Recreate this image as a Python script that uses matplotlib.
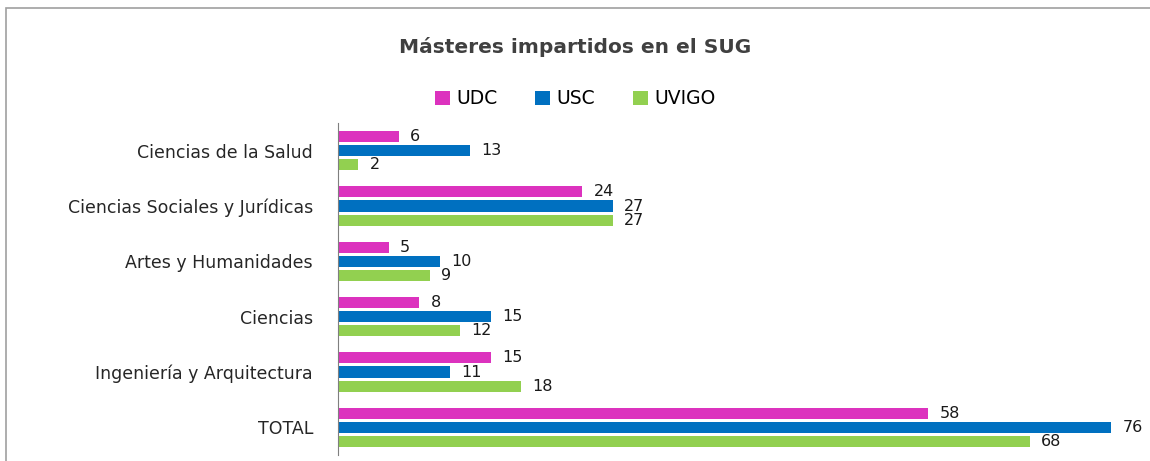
import numpy as np
import matplotlib
matplotlib.use("Agg")
from matplotlib import pyplot as plt
from matplotlib.patches import Rectangle

# Data
categories = ['Ciencias de la Salud', 'Ciencias Sociales y Jurídicas',
              'Artes y Humanidades', 'Ciencias',
              'Ingeniería y Arquitectura', 'TOTAL']
udc = [6, 24, 5, 8, 15, 58]
usc = [13, 27, 10, 15, 11, 76]
uvigo = [2, 27, 9, 12, 18, 68]
series_names = ['UDC', 'USC', 'UVIGO']
colors = ['#DC32BE', '#0070C0', '#92D050']

plt.rcParams['font.family'] = ['DejaVu Sans']

fig = plt.figure(figsize=(11.5, 4.61), dpi=100)
ax = fig.add_axes([338 / 1150, 6 / 461, 1 - 338 / 1150, (455 - 123) / 461])

y = np.arange(len(categories))
step = 0.257
height = 0.2
for i, (vals, name, col) in enumerate(zip([udc, usc, uvigo], series_names, colors)):
    pos = y + (i - 1) * step
    bars = ax.barh(pos, vals, height=height, color=col, label=name)
    for b, v in zip(bars, vals):
        ax.text(b.get_width() + 1.1, b.get_y() + b.get_height() / 2, str(v),
                va='center', ha='left', fontsize=11.5, color='#1a1a1a')

ax.set_ylim(5.5, -0.5)
ax.set_xlim(0, 79.8)
ax.set_yticks(y)
ax.set_yticklabels(categories, fontsize=12.5, color='#262626')
ax.tick_params(axis='y', length=0, pad=18)
ax.set_xticks([])
for s in ['top', 'right', 'bottom']:
    ax.spines[s].set_visible(False)
ax.spines['left'].set_color('#7f7f7f')

fig.text(0.5, 1 - 47 / 461, 'Másteres impartidos en el SUG', ha='center', va='center',
         fontsize=14.5, fontweight='bold', color='#404040')
fig.legend(loc='center', bbox_to_anchor=(0.5, 1 - 99 / 461), ncol=3, frameon=False,
           fontsize=13.5, handlelength=0.8, handleheight=0.8, handletextpad=0.35,
           columnspacing=2.0)

# outer chart border (only top and left edges are visible in the frame)
fig.patches.append(Rectangle((6 / 1150, -0.1), 1.2, 1.1 - 8 / 461, transform=fig.transFigure,
                             fill=False, edgecolor='#a0a0a0', lw=1.2))

fig.savefig('out.png', dpi=100)
